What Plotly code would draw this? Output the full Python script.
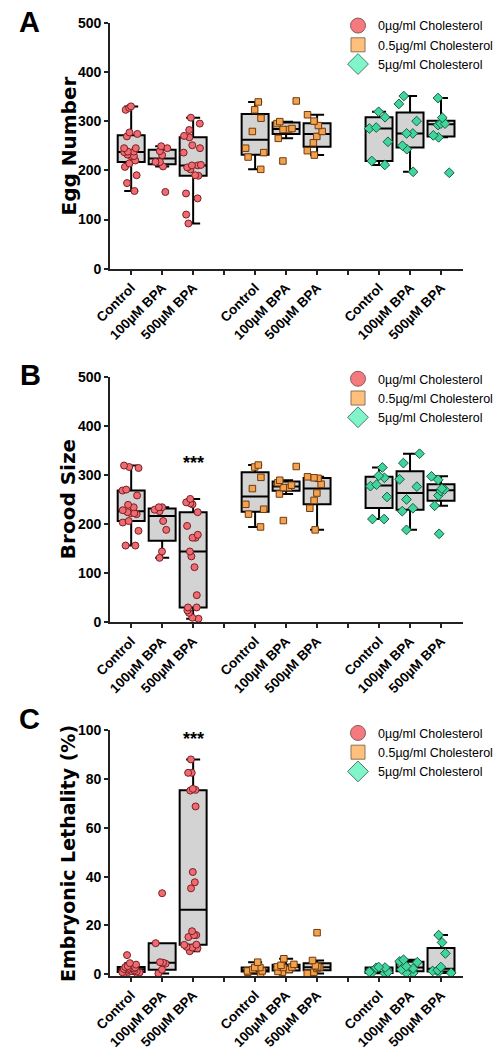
import plotly.graph_objects as go

# ---------------- data ----------------
treatments = ["Control", "100\u00b5M BPA", "500\u00b5M BPA"]
chol_names = ["0\u00b5g/ml Cholesterol", "0.5\u00b5g/ml Cholesterol", "5\u00b5g/ml Cholesterol"]

# Panel A: Egg Number
egg_c0_control = [330, 327, 323, 277, 274, 269, 245, 245, 238, 238, 237, 232, 229, 229, 220, 214, 207, 190, 174, 158]
egg_c0_bpa100 = [249, 245, 239, 231, 217, 217, 208, 156]
egg_c0_bpa500 = [307, 295, 282, 270, 267, 251, 245, 236, 211, 210, 210, 206, 202, 190, 189, 153, 143, 110, 92]
egg_c05_control = [339, 323, 306, 279, 245, 236, 227, 202]
egg_c05_bpa100 = [341, 299, 295, 285, 283, 283, 265, 219]
egg_c05_bpa500 = [313, 300, 291, 279, 269, 256, 240, 231]
egg_c5_control = [319, 308, 287, 285, 258, 219, 211]
egg_c5_bpa100 = [351, 335, 300, 275, 275, 250, 243, 197]
egg_c5_bpa500 = [347, 307, 295, 295, 292, 271, 267, 195]

# Panel B: Brood Size
brood_c0_control = [319, 316, 314, 270, 268, 258, 239, 234, 228, 224, 222, 222, 220, 206, 203, 186, 156, 156]
brood_c0_bpa100 = [234, 234, 229, 226, 206, 188, 144, 131]
brood_c0_bpa500 = [251, 244, 242, 240, 224, 196, 178, 172, 172, 144, 134, 112, 55, 30, 30, 24, 19, 9, 7]
brood_c05_control = [320, 316, 295, 272, 240, 230, 220, 194]
brood_c05_bpa100 = [317, 289, 284, 279, 274, 274, 261, 207]
brood_c05_bpa500 = [296, 294, 293, 281, 263, 248, 232, 188]
brood_c5_control = [315, 298, 294, 280, 277, 255, 210, 210]
brood_c5_bpa100 = [343, 324, 291, 276, 250, 232, 226, 188]
brood_c5_bpa500 = [297, 290, 272, 270, 267, 258, 237, 180]

# Panel C: Embryonic Lethality (%)
lethal_c0_control = [7.8, 4.5, 3.9, 3.3, 2.9, 2.7, 2.6, 2.3, 2.1, 1.9, 1.6, 1.3, 1.1, 0.9, 0.8, 0.7, 0.3, 0.2]
lethal_c0_bpa100 = [33.2, 12.7, 4.9, 4.7, 4.3, 1.8, 0.3]
lethal_c0_bpa500 = [88.1, 82.6, 82.6, 76.0, 75.6, 75.3, 68.8, 41.9, 37.7, 35.2, 17.6, 16.0, 16.0, 15.2, 12.1, 12.0, 11.2, 10.9, 10.6, 9.4]
lethal_c05_control = [4.9, 2.7, 2.7, 1.9, 1.3, 1.3, 0.8, 0.1]
lethal_c05_bpa100 = [6.3, 4.0, 3.6, 3.0, 2.9, 2.7, 1.9, 1.1, 0.8]
lethal_c05_bpa500 = [17.0, 5.6, 3.4, 3.0, 2.7, 2.3, 0.8, 0.3]
lethal_c5_control = [2.9, 2.7, 2.6, 0.9, 0.8, 0.5, 0.4]
lethal_c5_bpa100 = [5.9, 5.2, 4.9, 3.2, 2.3, 1.9, 0.5, 0.5]
lethal_c5_bpa500 = [16.0, 13.0, 8.5, 2.9, 1.6, 1.3, 0.8, 0.5]

panel_letters = ["A", "B", "C"]
panel_titles = ["Egg Number", "Brood Size", "Embryonic Lethality (%)"]
y_ticks_count = [[0, 100, 200, 300, 400, 500], [0, 100, 200, 300, 400, 500], [0, 20, 40, 60, 80, 100]]
star_text = "***"
star_positions = [None, (2, 324), (2, 96.5)]

panel_data = [
    [[egg_c0_control, egg_c0_bpa100, egg_c0_bpa500],
     [egg_c05_control, egg_c05_bpa100, egg_c05_bpa500],
     [egg_c5_control, egg_c5_bpa100, egg_c5_bpa500]],
    [[brood_c0_control, brood_c0_bpa100, brood_c0_bpa500],
     [brood_c05_control, brood_c05_bpa100, brood_c05_bpa500],
     [brood_c5_control, brood_c5_bpa100, brood_c5_bpa500]],
    [[lethal_c0_control, lethal_c0_bpa100, lethal_c0_bpa500],
     [lethal_c05_control, lethal_c05_bpa100, lethal_c05_bpa500],
     [lethal_c5_control, lethal_c5_bpa100, lethal_c5_bpa500]],
]

# ---------------- styles ----------------
W, H = 498, 1050
point_symbols = ["circle", "square", "diamond"]
point_fill = ["#EF6B72", "#F3A24F", "#3ED69C"]
point_line = ["#7A1F24", "#6E3B0E", "#1C5A42"]
point_size = [7, 6.5, 7.5]
legend_fill = ["#F47A80", "#FFC07C", "#7FF5C9"]
legend_line = ["#8a5a5c", "#8a7356", "#4d7a68"]
legend_size = [15, 14, 16]

x_px = (100, 475)
y_px = [(15, 265), (374.7, 624.3), (734.3, 984)]
tick_x0, tick_dx = 122.3, 32.9
x_range = [(x_px[0] - tick_x0) / tick_dx, (x_px[1] - tick_x0) / tick_dx]
y_ranges = [[0, 500], [0, 500], [-0.8, 100]]
legend_top_px = [3, 362, 722]
letter_center_px = [(14, 14.5), (15, 372.7), (14, 723)]
title_x_px = 56

xtick_font = dict(family="Liberation Sans, Arial, sans-serif", size=13.5, color="black", weight="bold")
ytick_font = dict(family="Liberation Sans, Arial, sans-serif", size=14, color="black", weight="bold")

fig = go.Figure()
layout = dict(
    width=W, height=H, margin=dict(l=0, r=0, t=0, b=0),
    paper_bgcolor="white", plot_bgcolor="white", showlegend=True,
    boxmode="overlay",
)
annotations = []

tickvals = list(range(11))
ticktext = []
for g in range(3):
    ticktext += treatments + ([""] if g < 2 else [])

for p in range(3):
    suffix = "" if p == 0 else str(p + 1)
    xa, ya = "x" + suffix, "y" + suffix
    legend_name = "legend" + suffix
    for c in range(3):
        xs, ys = [], []
        for t in range(3):
            vals = panel_data[p][c][t]
            xs += [c * 4 + t] * len(vals)
            ys += vals
        fig.add_trace(go.Box(
            x=xs, y=ys, xaxis=xa, yaxis=ya,
            boxpoints="all", jitter=0.85, pointpos=0,
            quartilemethod="exclusive",
            width=0.87, whiskerwidth=0.52,
            fillcolor="#D3D3D3",
            line=dict(color="black", width=2),
            marker=dict(symbol=point_symbols[c], size=point_size[c], color=point_fill[c],
                        line=dict(color=point_line[c], width=1), opacity=1),
            showlegend=False, hoverinfo="y",
        ))
    for c in range(3):
        fig.add_trace(go.Scatter(
            x=[None], y=[None], xaxis=xa, yaxis=ya, mode="markers",
            name=chol_names[c], legend=legend_name,
            marker=dict(symbol=point_symbols[c], size=legend_size[c], color=legend_fill[c],
                        line=dict(color=legend_line[c], width=1)),
        ))
    y0, y1 = y_px[p]
    layout["xaxis" + suffix] = dict(
        domain=[x_px[0] / W, x_px[1] / W], range=x_range, anchor=ya,
        tickmode="array", tickvals=tickvals, ticktext=ticktext, tickangle=-45,
        ticks="outside", ticklen=4, tickwidth=2, tickcolor="#222",
        showline=True, linewidth=2, linecolor="#222",
        showgrid=False, zeroline=False, tickfont=xtick_font,
    )
    layout["yaxis" + suffix] = dict(
        domain=[1 - y1 / H, 1 - y0 / H], range=y_ranges[p], anchor=xa,
        tickmode="array", tickvals=y_ticks_count[p],
        ticks="outside", ticklen=4, tickwidth=2, tickcolor="#222",
        showline=True, linewidth=2, linecolor="#222",
        showgrid=False, zeroline=False, tickfont=ytick_font,
    )
    layout[legend_name] = dict(
        x=342 / W, y=1 - legend_top_px[p] / H, xanchor="left", yanchor="top",
        bgcolor="rgba(0,0,0,0)", borderwidth=0,
        font=dict(family="Liberation Sans, Arial, sans-serif", size=12.5, color="black"),
        itemsizing="trace", tracegroupgap=0,
    )
    lx, ly = letter_center_px[p]
    annotations.append(dict(
        text="<b>%s</b>" % panel_letters[p], xref="paper", yref="paper",
        x=lx / W, y=1 - ly / H, xanchor="center", yanchor="middle", showarrow=False,
        font=dict(family="Liberation Sans, Arial, sans-serif", size=29, color="black"),
    ))
    annotations.append(dict(
        text="<b>%s</b>" % panel_titles[p], xref="paper", yref="paper",
        x=title_x_px / W, y=1 - (y0 + y1) / 2 / H, xanchor="center", yanchor="middle",
        textangle=-90, showarrow=False,
        font=dict(family="DejaVu Sans, Verdana, sans-serif", size=20 if p < 2 else 19, color="black"),
    ))
    if star_positions[p] is not None:
        sx, sy = star_positions[p]
        annotations.append(dict(
            text="<b>%s</b>" % star_text, xref=xa, yref=ya, x=sx, y=sy,
            xanchor="center", yanchor="middle", showarrow=False,
            font=dict(family="Liberation Sans, Arial, sans-serif", size=18, color="black"),
        ))

layout["annotations"] = annotations
fig.update_layout(**layout)
fig.write_html(
    "out.html",
    config={"displayModeBar": False},
    post_script="document.body.style.margin='0';document.body.style.padding='0';document.body.style.overflow='hidden';",
)
